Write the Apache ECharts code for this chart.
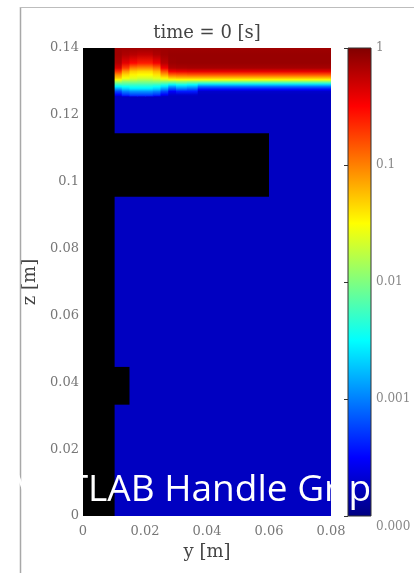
<!DOCTYPE html>
<html>
<head>
<meta charset="utf-8">
<script src="https://cdn.jsdelivr.net/npm/echarts@6/dist/echarts.min.js"></script>
<style>
html,body{margin:0;padding:0;background:#fff;}
#chart{width:414px;height:573px;}
</style>
</head>
<body>
<div id="chart"></div>
<script>
// ---------- data ----------
const titleText = 'time = 0 [s]';
const xName = 'y [m]';
const yName = 'z [m]';
const watermark = 'MATLAB Handle Grip';

// colour-bar ticks (log scale) and their labels
const colorbarTicks  = [1, 0.1, 0.01, 0.001, 0.0001];
const colorbarLabels = ['1', '0.1', '0.01', '0.001', '0.000'];

// fluid below the interface (blue)
const bgRegion = [0.010, 0.080, 0.0, 0.126];
const bgValue = 0.00018;

// interface band: z levels (bottom -> top) and column edges in y
const zLevels = [0.1255, 0.126, 0.127, 0.1275, 0.128, 0.1285, 0.129, 0.1295,
                 0.130, 0.1305, 0.131, 0.132, 0.133, 0.134, 0.1355, 0.138, 0.140];
const xEdges = [0.010, 0.0125, 0.015, 0.0175, 0.020, 0.0225, 0.025, 0.0275,
                0.030, 0.0335, 0.037, 0.045, 0.080];

// value profiles, one per column, at zLevels (bottom -> top)
const col0  = [0.0002, 0.0003, 0.0006, 0.001, 0.0018, 0.003, 0.005, 0.009, 0.016, 0.03, 0.05, 0.09, 0.2, 0.45, 0.65, 0.75, 0.75];
const col1  = [0.0003, 0.0005, 0.001, 0.0016, 0.0025, 0.0035, 0.0055, 0.008, 0.012, 0.02, 0.03, 0.045, 0.08, 0.18, 0.4, 0.65, 0.75];
const col2  = [0.0004, 0.0006, 0.0012, 0.002, 0.003, 0.004, 0.0055, 0.008, 0.012, 0.018, 0.025, 0.035, 0.05, 0.1, 0.3, 0.6, 0.75];
const col3  = [0.0004, 0.0006, 0.0012, 0.002, 0.003, 0.004, 0.0055, 0.008, 0.011, 0.016, 0.022, 0.032, 0.045, 0.09, 0.25, 0.55, 0.75];
const col4  = [0.0004, 0.0006, 0.0012, 0.002, 0.003, 0.004, 0.0055, 0.008, 0.011, 0.016, 0.022, 0.032, 0.045, 0.09, 0.25, 0.55, 0.75];
const col5  = [0.0003, 0.0005, 0.001, 0.0017, 0.0025, 0.0035, 0.005, 0.008, 0.012, 0.018, 0.025, 0.04, 0.06, 0.12, 0.35, 0.65, 0.75];
const col6  = [0.0002, 0.0003, 0.0006, 0.001, 0.0016, 0.0025, 0.004, 0.007, 0.012, 0.022, 0.035, 0.07, 0.15, 0.35, 0.6, 0.75, 0.75];
const col7  = [0.00018, 0.0002, 0.0003, 0.0005, 0.0008, 0.0014, 0.0028, 0.006, 0.012, 0.028, 0.05, 0.13, 0.35, 0.65, 0.78, 0.8, 0.75];
const col8  = [0.00018, 0.0002, 0.0004, 0.0007, 0.0012, 0.002, 0.0035, 0.007, 0.013, 0.03, 0.055, 0.14, 0.38, 0.68, 0.8, 0.8, 0.75];
const col9  = [0.00018, 0.0002, 0.0004, 0.0006, 0.001, 0.0017, 0.003, 0.006, 0.012, 0.03, 0.055, 0.15, 0.4, 0.7, 0.8, 0.8, 0.75];
const col10 = [0.00018, 0.00018, 0.0002, 0.0003, 0.0005, 0.0009, 0.002, 0.005, 0.012, 0.03, 0.055, 0.15, 0.4, 0.7, 0.8, 0.8, 0.75];
const col11 = [0.00018, 0.00018, 0.0002, 0.0003, 0.0005, 0.0009, 0.002, 0.005, 0.012, 0.03, 0.055, 0.15, 0.4, 0.7, 0.8, 0.8, 0.75];
const columns = [col0, col1, col2, col3, col4, col5, col6, col7, col8, col9, col10, col11];

// solid (black) regions: [y0, y1, z0, z1]
const wall   = [0.000, 0.0102, 0.000, 0.140];
const handle = [0.010, 0.0600, 0.0955, 0.1145];
const block  = [0.010, 0.0150, 0.0333, 0.0446];

// ---------- colour map (jet on log10 scale 1e-4..1) ----------
function clamp(v){ return Math.max(0, Math.min(1, v)); }
function jet(v){
  const t = clamp((Math.log10(v) + 4) / 4);
  const r = clamp(Math.min(4*t - 1.5, -4*t + 4.5));
  const g = clamp(Math.min(4*t - 0.5, -4*t + 3.5));
  const b = clamp(Math.min(4*t + 0.5, -4*t + 2.5));
  return 'rgb(' + Math.round(r*255) + ',' + Math.round(g*255) + ',' + Math.round(b*255) + ')';
}

const chart = echarts.init(document.getElementById('chart'), null, {renderer: 'canvas'});
const serif = '"DejaVu Serif", "Liberation Serif", serif';

function rectItem(api, x0, x1, z0, z1, fill, extra){
  const a = api.coord([x0, z1]);
  const b = api.coord([x1, z0]);
  return {
    type: 'rect',
    shape: {x: a[0], y: a[1], width: b[0] - a[0] + (extra || 0), height: b[1] - a[1]},
    style: {fill: fill}
  };
}

const option = {
  animation: false,
  backgroundColor: '#fff',
  title: {
    text: titleText,
    left: 'center',
    top: 19,
    textStyle: {fontFamily: serif, fontSize: 18, fontWeight: 'normal', color: '#444'}
  },
  grid: [
    {left: 83, top: 48, width: 248, height: 468},
    {left: 348, top: 48, width: 23, height: 468}
  ],
  xAxis: [
    {
      gridIndex: 0, type: 'value', min: 0, max: 0.08, interval: 0.02,
      name: xName, nameLocation: 'middle', nameGap: 27,
      nameTextStyle: {fontFamily: serif, fontSize: 18, color: '#444'},
      axisLine: {show: false}, axisTick: {show: false}, splitLine: {show: false},
      axisLabel: {fontFamily: serif, fontSize: 13, color: '#777', margin: 9}
    },
    {
      gridIndex: 1, type: 'value', min: 0, max: 1, show: false
    }
  ],
  yAxis: [
    {
      gridIndex: 0, type: 'value', min: 0, max: 0.14, interval: 0.02,
      name: yName, nameLocation: 'middle', nameGap: 36, nameRotate: 90,
      nameTextStyle: {fontFamily: serif, fontSize: 18, color: '#444'},
      axisLine: {show: false}, axisTick: {show: false}, splitLine: {show: false},
      axisLabel: {fontFamily: serif, fontSize: 13, color: '#777', margin: 4}
    },
    {
      gridIndex: 1, type: 'log', logBase: 10, min: 0.0001, max: 1, position: 'right',
      axisLine: {show: false},
      axisTick: {show: true, inside: true, length: 4, lineStyle: {color: '#333'}},
      splitLine: {show: false},
      minorTick: {show: false},
      axisLabel: {
        fontFamily: serif, fontSize: 12, color: '#888', margin: 5,
        formatter: function(v){
          const i = colorbarTicks.findIndex(function(t){ return Math.abs(Math.log10(t) - Math.log10(v)) < 1e-6; });
          if (i < 0) return '';
          if (i === colorbarTicks.length - 1) return '{low|' + colorbarLabels[i] + '}';
          return colorbarLabels[i];
        },
        rich: {low: {fontFamily: serif, fontSize: 12, color: '#888', padding: [22, 0, 0, 0]}}
      }
    }
  ],
  series: [
    {
      // blue fluid body
      type: 'custom', xAxisIndex: 0, yAxisIndex: 0, z: 1,
      data: [[bgRegion[0], bgRegion[1], bgRegion[2], bgRegion[3], bgValue]],
      renderItem: function(params, api){
        return rectItem(api, api.value(0), api.value(1), api.value(2), api.value(3), jet(api.value(4)));
      }
    },
    {
      // interface band, one gradient column per profile
      type: 'custom', xAxisIndex: 0, yAxisIndex: 0, z: 2,
      data: columns.map(function(c, i){ return [i]; }),
      renderItem: function(params, api){
        const i = api.value(0);
        const vals = columns[i];
        const z0 = zLevels[0], z1 = zLevels[zLevels.length - 1];
        const stops = zLevels.map(function(z, k){
          return {offset: (z - z0) / (z1 - z0), color: jet(vals[k])};
        });
        const fill = new echarts.graphic.LinearGradient(0, 1, 0, 0, stops);
        return rectItem(api, xEdges[i], xEdges[i + 1], z0, z1, fill, i < columns.length - 1 ? 0.8 : 0);
      }
    },
    {
      // solid regions
      type: 'custom', xAxisIndex: 0, yAxisIndex: 0, z: 3,
      data: [wall, handle, block],
      renderItem: function(params, api){
        return rectItem(api, api.value(0), api.value(1), api.value(2), api.value(3), '#000');
      }
    },
    {
      // colour bar
      type: 'custom', xAxisIndex: 1, yAxisIndex: 1, z: 2,
      data: [[0, 1, colorbarTicks[colorbarTicks.length - 1], colorbarTicks[0]]],
      renderItem: function(params, api){
        const lo = api.value(2), hi = api.value(3);
        const keys = [0, 0.125, 0.375, 0.625, 0.875, 1];
        const stops = keys.map(function(t){ return {offset: t, color: jet(Math.pow(10, t * 4 - 4))}; });
        const item = rectItem(api, api.value(0), api.value(1), lo, hi, new echarts.graphic.LinearGradient(0, 1, 0, 0, stops));
        item.style.stroke = '#333';
        item.style.lineWidth = 1;
        return item;
      }
    }
  ],
  graphic: [
    {type: 'line', shape: {x1: 20.5, y1: 7, x2: 20.5, y2: 573}, style: {stroke: '#a8a8a8', lineWidth: 1.5}, z: 10},
    {type: 'line', shape: {x1: 20, y1: 7.5, x2: 414, y2: 7.5}, style: {stroke: '#bdbdbd', lineWidth: 1}, z: 10},
    {
      type: 'text', left: 11, top: 472, z: 100,
      style: {text: watermark, font: '37px "Open Sans"', fill: '#ffffff'}
    }
  ]
};
chart.setOption(option);
</script>
</body>
</html>
